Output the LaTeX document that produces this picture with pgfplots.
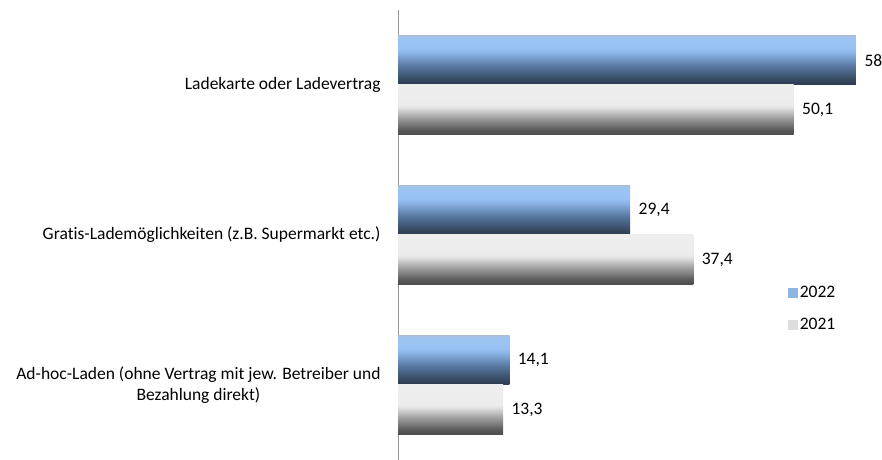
\documentclass[border=0pt]{standalone}
\usepackage{pgfplots}
\pgfplotsset{compat=1.18}
\usepackage{fontspec}
\setmainfont[Ligatures=NoCommon]{Carlito}
\definecolor{leg22}{HTML}{8DB4E2}
\definecolor{leg21}{HTML}{DDDDDD}
\pgfdeclareverticalshading{blueshade}{100bp}{%
  color(0bp)=(rgb,255:red,44;green,59;blue,80);
  color(25bp)=(rgb,255:red,44;green,59;blue,80);
  color(30bp)=(rgb,255:red,52;green,71;blue,94);
  color(45bp)=(rgb,255:red,90;green,123;blue,165);
  color(58bp)=(rgb,255:red,141;green,182;blue,232);
  color(62bp)=(rgb,255:red,152;green,194;blue,243);
  color(73bp)=(rgb,255:red,156;green,196;blue,243);
  color(75bp)=(rgb,255:red,170;green,190;blue,215);
  color(100bp)=(rgb,255:red,170;green,190;blue,215)}
\pgfdeclareverticalshading{greyshade}{100bp}{%
  color(0bp)=(rgb,255:red,75;green,75;blue,75);
  color(25bp)=(rgb,255:red,75;green,75;blue,75);
  color(30bp)=(rgb,255:red,90;green,90;blue,90);
  color(42bp)=(rgb,255:red,160;green,160;blue,160);
  color(52bp)=(rgb,255:red,224;green,224;blue,224);
  color(55bp)=(rgb,255:red,236;green,236;blue,236);
  color(75bp)=(rgb,255:red,238;green,238;blue,238);
  color(100bp)=(rgb,255:red,238;green,238;blue,238)}
\pgfplotsset{
  b22/.style={draw=none, shade, shading=blueshade, bar shift=0.165, forget plot},
  b21/.style={draw=none, shade, shading=greyshade, bar shift=-0.165, forget plot},
}
\begin{document}
\begin{tikzpicture}[font=\fontsize{17.5bp}{21bp}\selectfont]
\useasboundingbox (0,0) rectangle (882bp,460bp);
\begin{axis}[
  at={(398bp,0bp)}, anchor=south west,
  scale only axis, width=458bp, height=450bp,
  xmin=0, xmax=58, ymin=-0.5, ymax=2.5,
  axis x line=none,
  axis y line*=left,
  y axis line style={draw=black!40, line width=0.8pt, -},
  ytick={0,1,2},
  yticklabels={{Ad-hoc-Laden (ohne Vertrag mit jew. Betreiber und\\Bezahlung direkt)},{Gratis-Lademöglichkeiten (z.B. Supermarkt etc.)},{Ladekarte oder Ladevertrag}},
  yticklabel style={align=center, xshift=-14bp},
  major tick length=0pt,
  ytick style={draw=none},
  xbar, bar width=0.33,
  clip=false,
  /pgf/number format/assume math mode=true,
  nodes near coords={\pgfmathprintnumber[use comma]{\pgfplotspointmeta}},
  nodes near coords style={anchor=west, xshift=5bp, text=black},
  legend style={at={(rel axis cs:0.852,0.337)}, anchor=west, draw=none, fill=none,
    row sep=15bp, font=\fontsize{17.5bp}{21bp}\selectfont, inner sep=0pt,
    nodes={inner sep=2bp}},
  legend cell align=left,
]
\addlegendimage{legend image code/.code={\fill[leg22] (0bp,-5bp) rectangle (9bp,4bp);}}
\addlegendentry{2022}
\addlegendimage{legend image code/.code={\fill[leg21] (0bp,-5bp) rectangle (9bp,4bp);}}
\addlegendentry{2021}
\addplot[b22] coordinates {(58,2)};
\addplot[b22] coordinates {(29.4,1)};
\addplot[b22] coordinates {(14.1,0)};
\addplot[b21] coordinates {(50.1,2)};
\addplot[b21] coordinates {(37.4,1)};
\addplot[b21] coordinates {(13.3,0)};
\end{axis}
\end{tikzpicture}
\end{document}
